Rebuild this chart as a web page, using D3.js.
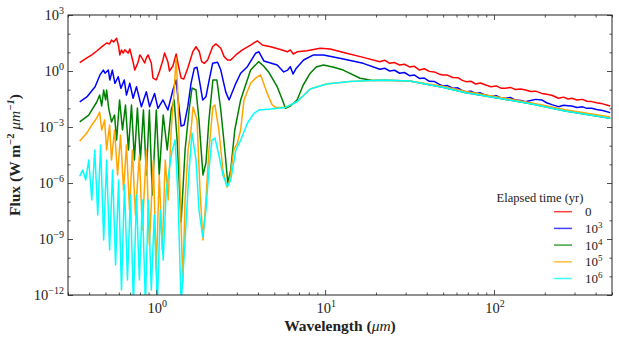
<!DOCTYPE html>
<html>
<head>
<meta charset="utf-8">
<script src="https://cdn.jsdelivr.net/npm/d3@7"></script>
<style>
  body { margin: 0; background: #fff; }
  svg text { font-family: "Liberation Serif", "Times New Roman", serif; fill: #222; }
</style>
</head>
<body>
<div id="chart"></div>
<script>
// Spectra: [wavelength (um), log10 flux (W m^-2 um^-1)]
const flux0 = [
  [0.352,0.45],[0.388,0.70],[0.415,0.86],[0.444,1.07],[0.475,1.29],[0.508,1.50],[0.529,1.45],[0.543,1.66],
  [0.559,1.55],[0.582,1.75],[0.598,1.34],[0.608,0.86],[0.622,1.13],[0.637,0.96],[0.651,1.13],[0.682,0.96],
  [0.697,1.18],[0.729,0.48],[0.746,0.05],[0.781,0.48],[0.798,0.86],[0.816,0.75],[0.853,0.43],[0.873,0.70],
  [0.894,0.86],[0.934,0.43],[0.956,-0.38],[1.0,-0.48],[1.046,0.0],[1.095,0.59],[1.119,0.96],[1.172,0.48],
  [1.197,0.0],[1.254,0.27],[1.311,0.91],[1.353,0.27],[1.403,-0.38],[1.455,-0.43],[1.537,0.16],[1.644,1.02],
  [1.719,1.30],[1.798,1.03],[1.857,0.50],[1.923,0.41],[2.014,0.59],[2.156,1.30],[2.254,1.45],[2.41,1.22],
  [2.522,0.77],[2.641,0.59],[2.76,0.59],[2.96,0.86],[3.236,1.13],[3.62,1.39],[3.965,1.62],[4.244,1.39],
  [4.75,1.30],[5.44,1.15],[5.98,1.03],[6.22,1.13],[6.48,0.91],[6.82,1.03],[7.81,1.09],[9.35,1.22],
  [10.7,1.18],[13.4,0.95],[16.8,0.73],[21.1,0.50],[22.5,0.58],[24.1,0.41],[25.8,0.45],[27.6,0.32],
  [29.5,0.36],[31.6,0.22],[33.8,0.25],[36.2,0.05],[38.7,0.12],[41.4,-0.02],[44.3,-0.05],[47.5,-0.17],
  [49.7,-0.21],[53,-0.22],[57,-0.35],[61,-0.36],[65,-0.50],[68.2,-0.57],[73,-0.55],[78,-0.70],
  [83,-0.64],[89.4,-0.75],[96,-0.84],[103,-0.80],[110,-0.92],[117,-0.93],[125,-0.88],[134,-0.99],
  [144,-0.96],[154,-1.02],[165,-1.10],[177,-1.08],[192,-1.20],[205,-1.24],[220,-1.30],[241,-1.46],
  [258,-1.40],[275,-1.50],[289,-1.46],[310,-1.55],[335,-1.52],[355,-1.62],[379,-1.64],[405,-1.70],
  [440,-1.76],[488,-1.88]
];

const flux1e3 = [
  [0.352,-1.65],[0.388,-1.39],[0.434,-0.84],[0.464,-0.21],[0.486,0.05],[0.497,-0.12],[0.520,0.05],[0.531,-0.48],
  [0.549,0.05],[0.569,-0.66],[0.595,-0.31],[0.617,-0.93],[0.646,-0.48],[0.666,-1.29],[0.697,-0.66],[0.729,-1.46],
  [0.763,-0.84],[0.816,-1.91],[0.873,-1.11],[0.913,-1.91],[0.977,-1.20],[1.023,-2.00],[1.095,-1.55],[1.172,-2.09],
  [1.254,-1.02],[1.311,-0.48],[1.347,-1.55],[1.403,-2.95],[1.461,-2.89],[1.537,-1.91],[1.606,-0.66],[1.680,0.15],
  [1.743,0.20],[1.798,-0.48],[1.883,-1.55],[1.968,-1.38],[2.058,-0.48],[2.156,0.41],[2.307,0.47],[2.41,0.05],
  [2.58,-1.13],[2.699,-1.55],[2.76,-1.34],[2.96,-0.66],[3.16,-0.12],[3.462,0.23],[3.87,0.95],[4.052,1.03],
  [4.336,0.54],[4.75,0.43],[5.199,0.32],[5.685,-0.05],[6.0,0.05],[6.22,0.23],[6.457,-0.16],[6.752,0.15],
  [7.454,0.59],[8.535,0.86],[9.772,0.86],[12.2,0.68],[16.8,0.41],[21.1,0.09],[22.5,0.15],[24.1,0.0],
  [25.8,0.04],[27.6,-0.12],[29.5,-0.08],[31.6,-0.25],[33.8,-0.22],[36.2,-0.40],[38.7,-0.38],[41.4,-0.55],
  [44.3,-0.56],[47.5,-0.72],[49.7,-0.80],[53,-0.78],[57,-0.92],[61,-0.90],[65,-1.05],[68.2,-1.11],
  [73,-1.08],[78,-1.20],[83,-1.17],[89.4,-1.29],[96,-1.36],[103,-1.32],[110,-1.44],[117,-1.46],
  [125,-1.42],[134,-1.56],[144,-1.58],[154,-1.65],[165,-1.58],[177,-1.52],[192,-1.55],[205,-1.70],
  [220,-1.80],[241,-1.91],[258,-1.84],[275,-1.86],[289,-1.88],[310,-1.96],[335,-1.92],[355,-2.00],
  [379,-2.00],[405,-2.06],[440,-2.12],[488,-2.23]
];

const flux1e4 = [
  [0.352,-2.73],[0.398,-2.36],[0.444,-1.66],[0.462,-1.29],[0.475,-1.87],[0.488,-1.02],[0.501,-1.55],[0.508,-1.02],
  [0.522,-1.98],[0.543,-2.73],[0.566,-2.36],[0.582,-3.70],[0.606,-1.55],[0.631,-3.16],[0.657,-1.82],[0.684,-4.23],
  [0.713,-1.82],[0.742,-4.77],[0.773,-1.98],[0.805,-4.77],[0.839,-2.09],[0.873,-5.57],[0.910,-2.09],[0.947,-6.64],
  [1.0,-2.09],[1.041,-5.57],[1.099,-2.36],[1.161,-4.23],[1.225,-2.09],[1.276,-1.55],[1.329,-3.70],[1.403,-8.09],
  [1.481,-4.23],[1.564,-2.09],[1.628,-0.91],[1.719,-1.02],[1.790,-2.63],[1.890,-5.57],[1.968,-4.93],[2.050,-2.63],
  [2.164,-0.48],[2.285,-0.48],[2.41,-2.09],[2.546,-4.23],[2.651,-6.0],[2.76,-5.30],[2.916,-3.16],[3.16,-1.55],
  [3.38,-0.75],[3.62,0.05],[4.036,0.50],[4.318,0.27],[4.621,-0.05],[5.199,-0.84],[5.586,-1.55],[5.82,-2.0],
  [6.22,-1.88],[6.82,-1.55],[7.42,-0.75],[8.16,-0.12],[8.85,0.21],[9.77,0.32],[11.1,0.21],[12.8,0.05],
  [16.1,-0.39],[19.2,-0.51],[22.0,-0.49],[31.6,-0.54],[49.7,-0.87],[68.2,-1.16],[107,-1.46],[168,-1.77],
  [264,-2.14],[488,-2.53]
];

const flux1e5 = [
  [0.352,-3.75],[0.388,-3.32],[0.415,-2.89],[0.444,-2.52],[0.462,-2.20],[0.475,-3.16],[0.494,-2.63],[0.508,-4.23],
  [0.529,-2.89],[0.543,-4.77],[0.566,-3.16],[0.590,-5.57],[0.614,-3.43],[0.640,-6.38],[0.666,-3.96],[0.694,-7.45],
  [0.722,-4.23],[0.752,-7.71],[0.794,-4.50],[0.827,-8.52],[0.873,-4.23],[0.910,-9.32],[0.960,-4.77],[1.0,-10.66],
  [1.041,-5.57],[1.085,-9.59],[1.130,-4.77],[1.176,-6.91],[1.225,-3.16],[1.276,-1.02],[1.311,0.70],[1.347,-1.55],
  [1.384,-6.38],[1.436,-11.36],[1.481,-6.91],[1.543,-4.23],[1.606,-3.16],[1.651,-1.93],[1.743,-2.63],[1.815,-6.38],
  [1.890,-9.05],[1.968,-6.91],[2.050,-4.23],[2.164,-1.93],[2.224,-1.82],[2.348,-3.16],[2.479,-5.30],[2.616,-6.21],
  [2.724,-5.84],[2.877,-4.23],[3.024,-3.86],[3.16,-3.16],[3.306,-1.55],[3.62,-0.66],[3.87,-0.38],[4.15,-0.21],
  [4.541,-1.20],[4.859,-1.82],[5.08,-1.95],[5.82,-1.95],[6.82,-1.65],[8.16,-0.96],[10.2,-0.70],[14.0,-0.56],
  [22.0,-0.48],[31.6,-0.54],[49.7,-0.81],[68.2,-1.10],[107,-1.40],[168,-1.71],[264,-2.08],[488,-2.47]
];

const flux1e6 = [
  [0.352,-5.63],[0.367,-5.30],[0.382,-5.84],[0.398,-4.77],[0.415,-6.91],[0.432,-4.23],[0.450,-7.71],[0.468,-3.96],
  [0.488,-9.05],[0.508,-4.77],[0.529,-9.59],[0.551,-5.30],[0.574,-10.39],[0.598,-5.84],[0.622,-11.73],[0.648,-6.11],
  [0.675,-11.20],[0.703,-6.64],[0.732,-12.5],[0.763,-6.64],[0.794,-11.20],[0.827,-6.91],[0.862,-12.5],[0.897,-6.91],
  [0.934,-11.73],[0.973,-7.71],[1.014,-12.5],[1.056,-7.45],[1.099,-10.13],[1.145,-6.38],[1.192,-5.30],[1.242,-4.23],
  [1.294,-3.70],[1.347,-6.91],[1.403,-12.5],[1.481,-9.05],[1.564,-5.30],[1.628,-3.32],[1.719,-4.77],[1.790,-7.45],
  [1.883,-8.88],[1.968,-7.45],[2.050,-5.30],[2.135,-3.70],[2.224,-3.59],[2.348,-4.50],[2.479,-5.57],[2.641,-6.20],
  [2.76,-5.84],[2.96,-4.23],[3.16,-3.70],[3.462,-2.80],[3.786,-2.27],[4.052,-2.09],[4.75,-2.04],[5.82,-1.95],
  [6.82,-1.65],[8.16,-0.96],[10.2,-0.70],[14.0,-0.56],[22.0,-0.48],[31.6,-0.54],[49.7,-0.87],[68.2,-1.16],
  [107,-1.46],[168,-1.77],[264,-2.14],[488,-2.53]
];

const series = [flux0, flux1e3, flux1e4, flux1e5, flux1e6];
const seriesColors = ["#ff0000", "#0000ff", "#008000", "#ffa500", "#00ffff"];
const legendExponents = [null, "3", "4", "5", "6"]; // null -> plain "0"
const legendTitle = "Elapsed time (yr)";
const xTickExps = [0, 1, 2];
const yTickExps = [3, 0, -3, -6, -9, -12];

const width = 619, height = 342;
const plot = { left: 68, right: 612, top: 15, bottom: 295 };

const svg = d3.select("#chart").append("svg")
  .attr("width", width)
  .attr("height", height);

const x = d3.scaleLog().domain([0.3, 500]).range([plot.left, plot.right]);
const y = d3.scaleLog().domain([1e-12, 1e3]).range([plot.bottom, plot.top]);

svg.append("clipPath").attr("id", "clip")
  .append("rect")
  .attr("x", plot.left).attr("y", plot.top)
  .attr("width", plot.right - plot.left)
  .attr("height", plot.bottom - plot.top);

// Lines
const line = d3.line()
  .x(d => x(d[0]))
  .y(d => y(Math.pow(10, d[1])));

const gLines = svg.append("g").attr("clip-path", "url(#clip)");
series.forEach((s, i) => {
  gLines.append("path")
    .datum(s)
    .attr("fill", "none")
    .attr("stroke", seriesColors[i])
    .attr("stroke-width", 1.5)
    .attr("stroke-linejoin", "round")
    .attr("d", line);
});

// Ticks (inside, on all four sides)
const xMajor = xTickExps.map(e => Math.pow(10, e));
const xMinor = x.ticks().filter(t => !xMajor.some(m => Math.abs(m - t) < 1e-9));
const yMajor = yTickExps.map(e => Math.pow(10, e));
const yMinor = d3.range(-12, 4).filter(e => !yTickExps.includes(e)).map(e => Math.pow(10, e));

function addAxis(axisFn, scale, vals, size, transform) {
  const g = svg.append("g")
    .attr("transform", transform)
    .call(axisFn(scale).tickValues(vals).tickSizeInner(-size).tickSizeOuter(0).tickFormat(""));
  g.select(".domain").remove();
  g.selectAll("line").attr("stroke", "#222").attr("stroke-width", 0.8);
}
addAxis(d3.axisBottom, x, xMajor, 5, `translate(0,${plot.bottom})`);
addAxis(d3.axisBottom, x, xMinor, 2.5, `translate(0,${plot.bottom})`);
addAxis(d3.axisTop, x, xMajor, 5, `translate(0,${plot.top})`);
addAxis(d3.axisTop, x, xMinor, 2.5, `translate(0,${plot.top})`);
addAxis(d3.axisLeft, y, yMajor, 5, `translate(${plot.left},0)`);
addAxis(d3.axisLeft, y, yMinor, 2.5, `translate(${plot.left},0)`);
addAxis(d3.axisRight, y, yMajor, 5, `translate(${plot.right},0)`);
addAxis(d3.axisRight, y, yMinor, 2.5, `translate(${plot.right},0)`);

// Frame
svg.append("rect")
  .attr("x", plot.left).attr("y", plot.top)
  .attr("width", plot.right - plot.left)
  .attr("height", plot.bottom - plot.top)
  .attr("fill", "none")
  .attr("stroke", "#222")
  .attr("stroke-width", 1);

const minus = e => (e < 0 ? "\u2212" + (-e) : String(e));

// Tick labels
yTickExps.forEach(e => {
  const t = svg.append("text")
    .attr("x", 64)
    .attr("y", y(Math.pow(10, e)) + 5)
    .attr("text-anchor", "end");
  t.append("tspan").attr("font-size", 14.5).text("10");
  t.append("tspan").attr("font-size", 10).attr("dy", -6).text(minus(e));
});

xTickExps.forEach(e => {
  const t = svg.append("text")
    .attr("x", x(Math.pow(10, e)) + 1)
    .attr("y", 312.5)
    .attr("text-anchor", "middle");
  t.append("tspan").attr("font-size", 14.5).text("10");
  t.append("tspan").attr("font-size", 10).attr("dy", -6).text(minus(e));
});

// Axis titles
const xt = svg.append("text")
  .attr("x", (plot.left + plot.right) / 2)
  .attr("y", 331)
  .attr("text-anchor", "middle")
  .attr("font-size", 15.5)
  .attr("font-weight", "bold");
xt.append("tspan").text("Wavelength (");
xt.append("tspan").attr("font-style", "italic").attr("font-weight", "normal").text("\u03bcm");
xt.append("tspan").text(")");

const yt = svg.append("text")
  .attr("transform", `translate(20,${(plot.top + plot.bottom) / 2}) rotate(-90)`)
  .attr("text-anchor", "middle")
  .attr("font-size", 15.5)
  .attr("font-weight", "bold");
yt.append("tspan").text("Flux (W m");
yt.append("tspan").attr("font-size", 10.5).attr("dy", -6).text("\u22122");
yt.append("tspan").attr("dy", 6).text(" ");
yt.append("tspan").attr("font-style", "italic").attr("font-weight", "normal").text("\u03bcm");
yt.append("tspan").attr("font-size", 10.5).attr("dy", -6).attr("font-style", "italic").text("\u22121");
yt.append("tspan").attr("dy", 6).text(")");

// Legend
svg.append("text")
  .attr("x", 540)
  .attr("y", 202)
  .attr("text-anchor", "middle")
  .attr("font-size", 12.5)
  .text(legendTitle);

legendExponents.forEach((e, i) => {
  const ly = 211.7 + i * 16.7;
  svg.append("line")
    .attr("x1", 554).attr("x2", 572)
    .attr("y1", ly).attr("y2", ly)
    .attr("stroke", seriesColors[i])
    .attr("stroke-opacity", 0.75)
    .attr("stroke-width", 1.5);
  const t = svg.append("text").attr("x", 585).attr("y", ly + 4.5);
  if (e === null) {
    t.append("tspan").attr("font-size", 13).text("0");
  } else {
    t.append("tspan").attr("font-size", 13).text("10");
    t.append("tspan").attr("font-size", 9).attr("dy", -5).text(e);
  }
});
</script>
</body>
</html>
